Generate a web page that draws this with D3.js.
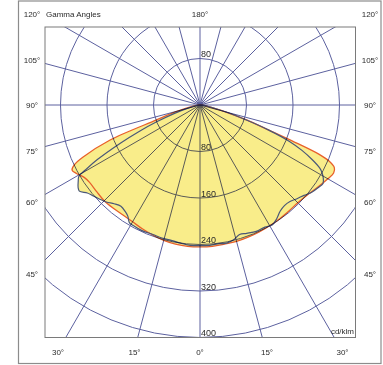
<!DOCTYPE html>
<html><head><meta charset="utf-8">
<script src="https://cdn.jsdelivr.net/npm/d3@7"></script>
<style>
html,body{margin:0;padding:0;background:#fff;}
svg{display:block;font-family:"Liberation Sans",Arial,sans-serif;}
</style></head>
<body>
<svg id="c" width="383" height="365"></svg>
<script>
// ---- data (cd/klm) ----
const ringValues = [80, 160, 240, 320, 400];
const ringLabels = ["80", "160", "240", "320", "400"];
const spokeAngles = d3.range(0, 360, 15);
const sideLabels = ["120°", "105°", "90°", "75°", "60°", "45°"];
const bottomLabels = ["30°", "15°", "0°", "15°", "30°"];
const unitLabel = "cd/klm";
const titleLabel = "Gamma Angles";
const topLabel = "180°";

// C0 / C180 plane (orange) – right side (C0) and left side (C180)
const gammaC0 = [0,5,10,15,20,25,30,35,40,45,50,55,60,63,65,66.5,67.5,68.7,70,72.2,75,80,85,90];
const valC0   = [244,244,243,243,242,241,240,239,238,238,241,247,254,258,255,242,222,170,125,84,45,15,4,0];
const gammaC180 = [0,5,10,15,20,25,30,35,40,45,50,55,58,61,63,64.5,66,68.7,71,74,80,85,90];
const valC180   = [244,244,243,241,238,235,232,231,232,233,232,232,235,243,247,240,220,166,80,45,12,4,0];

// C90 / C270 plane (blue) – right side (C90) and left side (C270)
const gammaC90 = [0,4,8,11,14,17,20,24,28,31,34,37,40,43,46,49,52,55,57.5,59.5,61,62.2,64,66,67.8,70,72,75,80,85,90];
const valC90   = [242,242,241,242,239,233,235,238,238,241,236,229,226,227,232,237,244,248,251,246,240,233,215,192,167,125,85,45,15,4,0];
const gammaC270 = [0,4,8,12,16,20,25,29,31,33,35,38,41,44,47,50,52,54.5,56,58,59.5,60.5,62,64.4,66.5,68.9,72,76,82,90];
const valC270   = [242,242,240,238,238,237,238,237,236,228,224,221,225,232,237,242,246,255,253,247,242,226,200,152,115,79,45,20,6,0];

// ---- layout ----
const svg = d3.select("#c");
const cx = 200, cy = 105;
const plot = {x0: 45, y0: 27, x1: 355.5, y1: 337.5};
const r = d3.scaleLinear().domain([0, 400]).range([0, 232.5]);
const gridColor = "#5c619f";
const rad = d => d * Math.PI / 180;

// outer frame
svg.append("rect").attr("x", 18.5).attr("y", 1).attr("width", 362.5).attr("height", 362.5)
  .attr("fill", "none").attr("stroke", "#8c8c8c").attr("stroke-width", 1.2);

svg.append("defs").append("clipPath").attr("id", "clip")
  .append("rect").attr("x", plot.x0).attr("y", plot.y0)
  .attr("width", plot.x1 - plot.x0).attr("height", plot.y1 - plot.y0);

const g = svg.append("g").attr("transform", `translate(${cx},${cy})`);

// build curve points: left side (gamma 90 -> 0) then right side (0 -> 90)
function plane(gL, vL, gR, vR) {
  const pts = [];
  for (let i = gL.length - 1; i >= 0; i--) pts.push([Math.PI + rad(gL[i]), r(vL[i])]);
  for (let i = 1; i < gR.length; i++) pts.push([Math.PI - rad(gR[i]), r(vR[i])]);
  return pts;
}
const orangePts = plane(gammaC180, valC180, gammaC0, valC0);
const bluePts = plane(gammaC270, valC270, gammaC90, valC90);
const radial = d3.lineRadial().angle(d => d[0]).radius(d => d[1]).curve(d3.curveCatmullRom.alpha(0.5));

const fillG = g.append("g");
fillG.append("path").attr("d", radial(orangePts) + "Z").attr("fill", "#f9ed8a");
fillG.append("path").attr("d", radial(bluePts) + "Z").attr("fill", "#f9ed8a");

// grid (multiplied over the fill)
const gridG = svg.append("g").attr("clip-path", "url(#clip)").style("mix-blend-mode", "multiply")
  .append("g").attr("transform", `translate(${cx},${cy})`);
gridG.selectAll("circle.ring").data(ringValues).join("circle")
  .attr("r", d => r(d)).attr("fill", "none").attr("stroke", gridColor).attr("stroke-width", 1);
gridG.selectAll("line.spoke").data(spokeAngles).join("line")
  .attr("x1", 0).attr("y1", 0)
  .attr("x2", d => Math.sin(rad(d)) * 400).attr("y2", d => Math.cos(rad(d)) * 400)
  .attr("stroke", gridColor).attr("stroke-width", 1);

// curves
g.append("path").attr("d", radial(orangePts)).attr("fill", "none")
  .attr("stroke", "#e8602a").attr("stroke-width", 1.3);
g.append("path").attr("d", radial(bluePts)).attr("fill", "none")
  .attr("stroke", "#4a5878").attr("stroke-width", 1.2);

// plot frame
svg.append("rect").attr("x", plot.x0).attr("y", plot.y0)
  .attr("width", plot.x1 - plot.x0).attr("height", plot.y1 - plot.y0)
  .attr("fill", "none").attr("stroke", "#7a7a7a").attr("stroke-width", 1);

// ring labels
const txt = "#2a2a2a";
svg.append("text").attr("x", cx + 1).attr("y", cy - r(80) - 1.5).attr("font-size", 9)
  .attr("fill", txt).text(ringLabels[0]);
svg.selectAll("text.ringlab").data(ringValues).join("text").attr("class", "ringlab")
  .attr("x", cx + 1).attr("y", d => cy + r(d) - 1.5).attr("font-size", 9)
  .attr("fill", txt).text((d, i) => ringLabels[i]);

// side labels
const sideY = [14, 60, 105, 151, 202, 274];
[32, 370].forEach(x => {
  svg.selectAll(null).data(sideLabels).join("text")
    .attr("x", x).attr("y", (d, i) => sideY[i] + 3).attr("text-anchor", "middle")
    .attr("font-size", 8).attr("fill", txt).text(d => d);
});
const bottomX = [58, 134.5, 200, 267, 342.5];
svg.selectAll(null).data(bottomLabels).join("text")
  .attr("x", (d, i) => bottomX[i]).attr("y", 355).attr("text-anchor", "middle")
  .attr("font-size", 8).attr("fill", txt).text(d => d);

svg.append("text").attr("x", 46).attr("y", 17).attr("font-size", 8).attr("fill", txt).text(titleLabel);
svg.append("text").attr("x", cx).attr("y", 17).attr("text-anchor", "middle").attr("font-size", 8).attr("fill", txt).text(topLabel);
svg.append("text").attr("x", 354).attr("y", 333.5).attr("text-anchor", "end").attr("font-size", 8).attr("fill", txt).text(unitLabel);
</script>
</body></html>
